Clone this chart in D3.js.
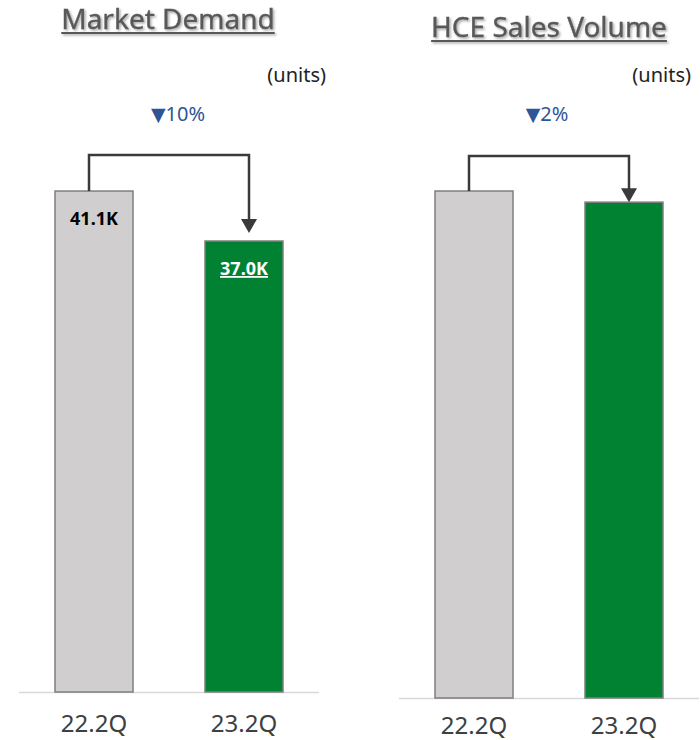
<!DOCTYPE html>
<html>
<head>
<meta charset="utf-8">
<script src="https://cdn.jsdelivr.net/npm/d3@7"></script>
<style>
  body { margin: 0; background: #fff; }
  svg { display: block; font-family: "Noto Sans", "Open Sans", sans-serif; }
</style>
</head>
<body>
<div id="chart"></div>
<script>
// data
const categories = ['22.2Q', '23.2Q']
const demandValues = [41.1, 37.0]        // K units
const demandLabels = ['41.1K', '37.0K']
const salesValues = [100, 97.8]          // index, no labels shown in the source
const titles = ['Market Demand', 'HCE Sales Volume']
const changeTexts = ['10%', '2%']

const W = 700, H = 740
const svg = d3.select('#chart').append('svg').attr('width', W).attr('height', H)

const defs = svg.append('defs')
defs.append('filter').attr('id', 'shadow')
  .attr('filterUnits', 'userSpaceOnUse')
  .attr('x', 0).attr('y', 0).attr('width', W).attr('height', 60)
  .append('feDropShadow')
  .attr('dx', 1.5).attr('dy', 1.5).attr('stdDeviation', 1)
  .attr('flood-color', '#000').attr('flood-opacity', 0.35)

const panels = [
  { title: titles[0], values: demandValues, labels: demandLabels, change: changeTexts[0],
    x0: 19, x1: 319, base: 692, yMax: 45, yTop: 143.5,
    titleX: 168, titleY: 29, unitsX: 326, unitsY: 82, changeX: 178, changeY: 121, bridgeY: 155,
    xLabelY: 732 },
  { title: titles[1], values: salesValues, labels: null, change: changeTexts[1],
    x0: 399, x1: 699, base: 698, yMax: 100, yTop: 191,
    titleX: 549, titleY: 37, unitsX: 691, unitsY: 82, changeX: 547, changeY: 121, bridgeY: 156,
    xLabelY: 734 }
]

panels.forEach(p => {
  const g = svg.append('g')
  const x = d3.scaleBand().domain(categories).range([p.x0, p.x1])
    .paddingInner(0.48).paddingOuter(0.24)
  const y = d3.scaleLinear().domain([0, p.yMax]).range([p.base, p.yTop])

  // title with underline and shadow
  const tg = g.append('g').attr('filter', 'url(#shadow)')
  const t = tg.append('text')
    .attr('x', p.titleX).attr('y', p.titleY)
    .attr('text-anchor', 'middle')
    .attr('font-size', 28).attr('fill', '#595959')
    .attr('stroke', '#595959').attr('stroke-width', 0.35)
    .text(p.title)
  const bb = t.node().getBBox()
  tg.append('rect')
    .attr('x', bb.x).attr('width', bb.width)
    .attr('y', p.titleY + 3).attr('height', 2)
    .attr('fill', '#595959')

  g.append('text')
    .attr('x', p.unitsX).attr('y', p.unitsY)
    .attr('text-anchor', 'end')
    .attr('font-size', 20).attr('fill', '#222')
    .text('(units)')

  const ct = g.append('text')
    .attr('x', p.changeX).attr('y', p.changeY)
    .attr('text-anchor', 'middle')
    .attr('font-size', 20).attr('fill', '#2F5597')
  ct.append('tspan').attr('font-family', 'DejaVu Sans').attr('font-size', 19).text('\u25BC')
  ct.append('tspan').text(p.change)

  // axis baseline
  g.append('line')
    .attr('x1', p.x0).attr('x2', p.x1)
    .attr('y1', p.base + 0.5).attr('y2', p.base + 0.5)
    .attr('stroke', '#d9d9d9').attr('stroke-width', 1.5)

  // bars
  g.selectAll('rect.bar').data(p.values).enter().append('rect')
    .attr('class', 'bar')
    .attr('x', (d, i) => x(categories[i]))
    .attr('y', d => y(d))
    .attr('width', x.bandwidth())
    .attr('height', d => p.base - y(d))
    .attr('fill', (d, i) => i === 0 ? '#D0CECE' : '#008232')
    .attr('stroke', '#7f7f7f').attr('stroke-width', 1.5)

  // x labels
  g.selectAll('text.xl').data(categories).enter().append('text')
    .attr('class', 'xl')
    .attr('x', d => x(d) + x.bandwidth() / 2)
    .attr('y', p.xLabelY)
    .attr('text-anchor', 'middle')
    .attr('font-size', 24).attr('fill', '#404040')
    .text(d => d)

  // value labels
  if (p.labels) {
    g.selectAll('text.vl').data(p.values).enter().append('text')
      .attr('class', 'vl')
      .attr('x', (d, i) => x(categories[i]) + x.bandwidth() / 2)
      .attr('y', d => y(d) + 34)
      .attr('text-anchor', 'middle')
      .attr('font-size', 18).attr('font-weight', 'bold')
      .attr('fill', (d, i) => i === 0 ? '#000' : '#fff')
      .attr('text-decoration', (d, i) => i === 1 ? 'underline' : null)
      .text((d, i) => p.labels[i])
  }

  // bridge arrow
  const ax1 = x(categories[0]) + x.bandwidth() / 2 - 5
  const ax2 = x(categories[1]) + x.bandwidth() / 2 + 5
  const tip = y(p.values[1]) - (p.labels ? 8 : 0)
  g.append('path')
    .attr('d', `M${ax1},${y(p.values[0])}V${p.bridgeY}H${ax2}V${tip - 12}`)
    .attr('fill', 'none').attr('stroke', '#3a3a3a').attr('stroke-width', 2.5)
  g.append('path')
    .attr('d', `M${ax2 - 8},${tip - 14}L${ax2 + 8},${tip - 14}L${ax2},${tip}Z`)
    .attr('fill', '#3a3a3a')
})
</script>
</body>
</html>
